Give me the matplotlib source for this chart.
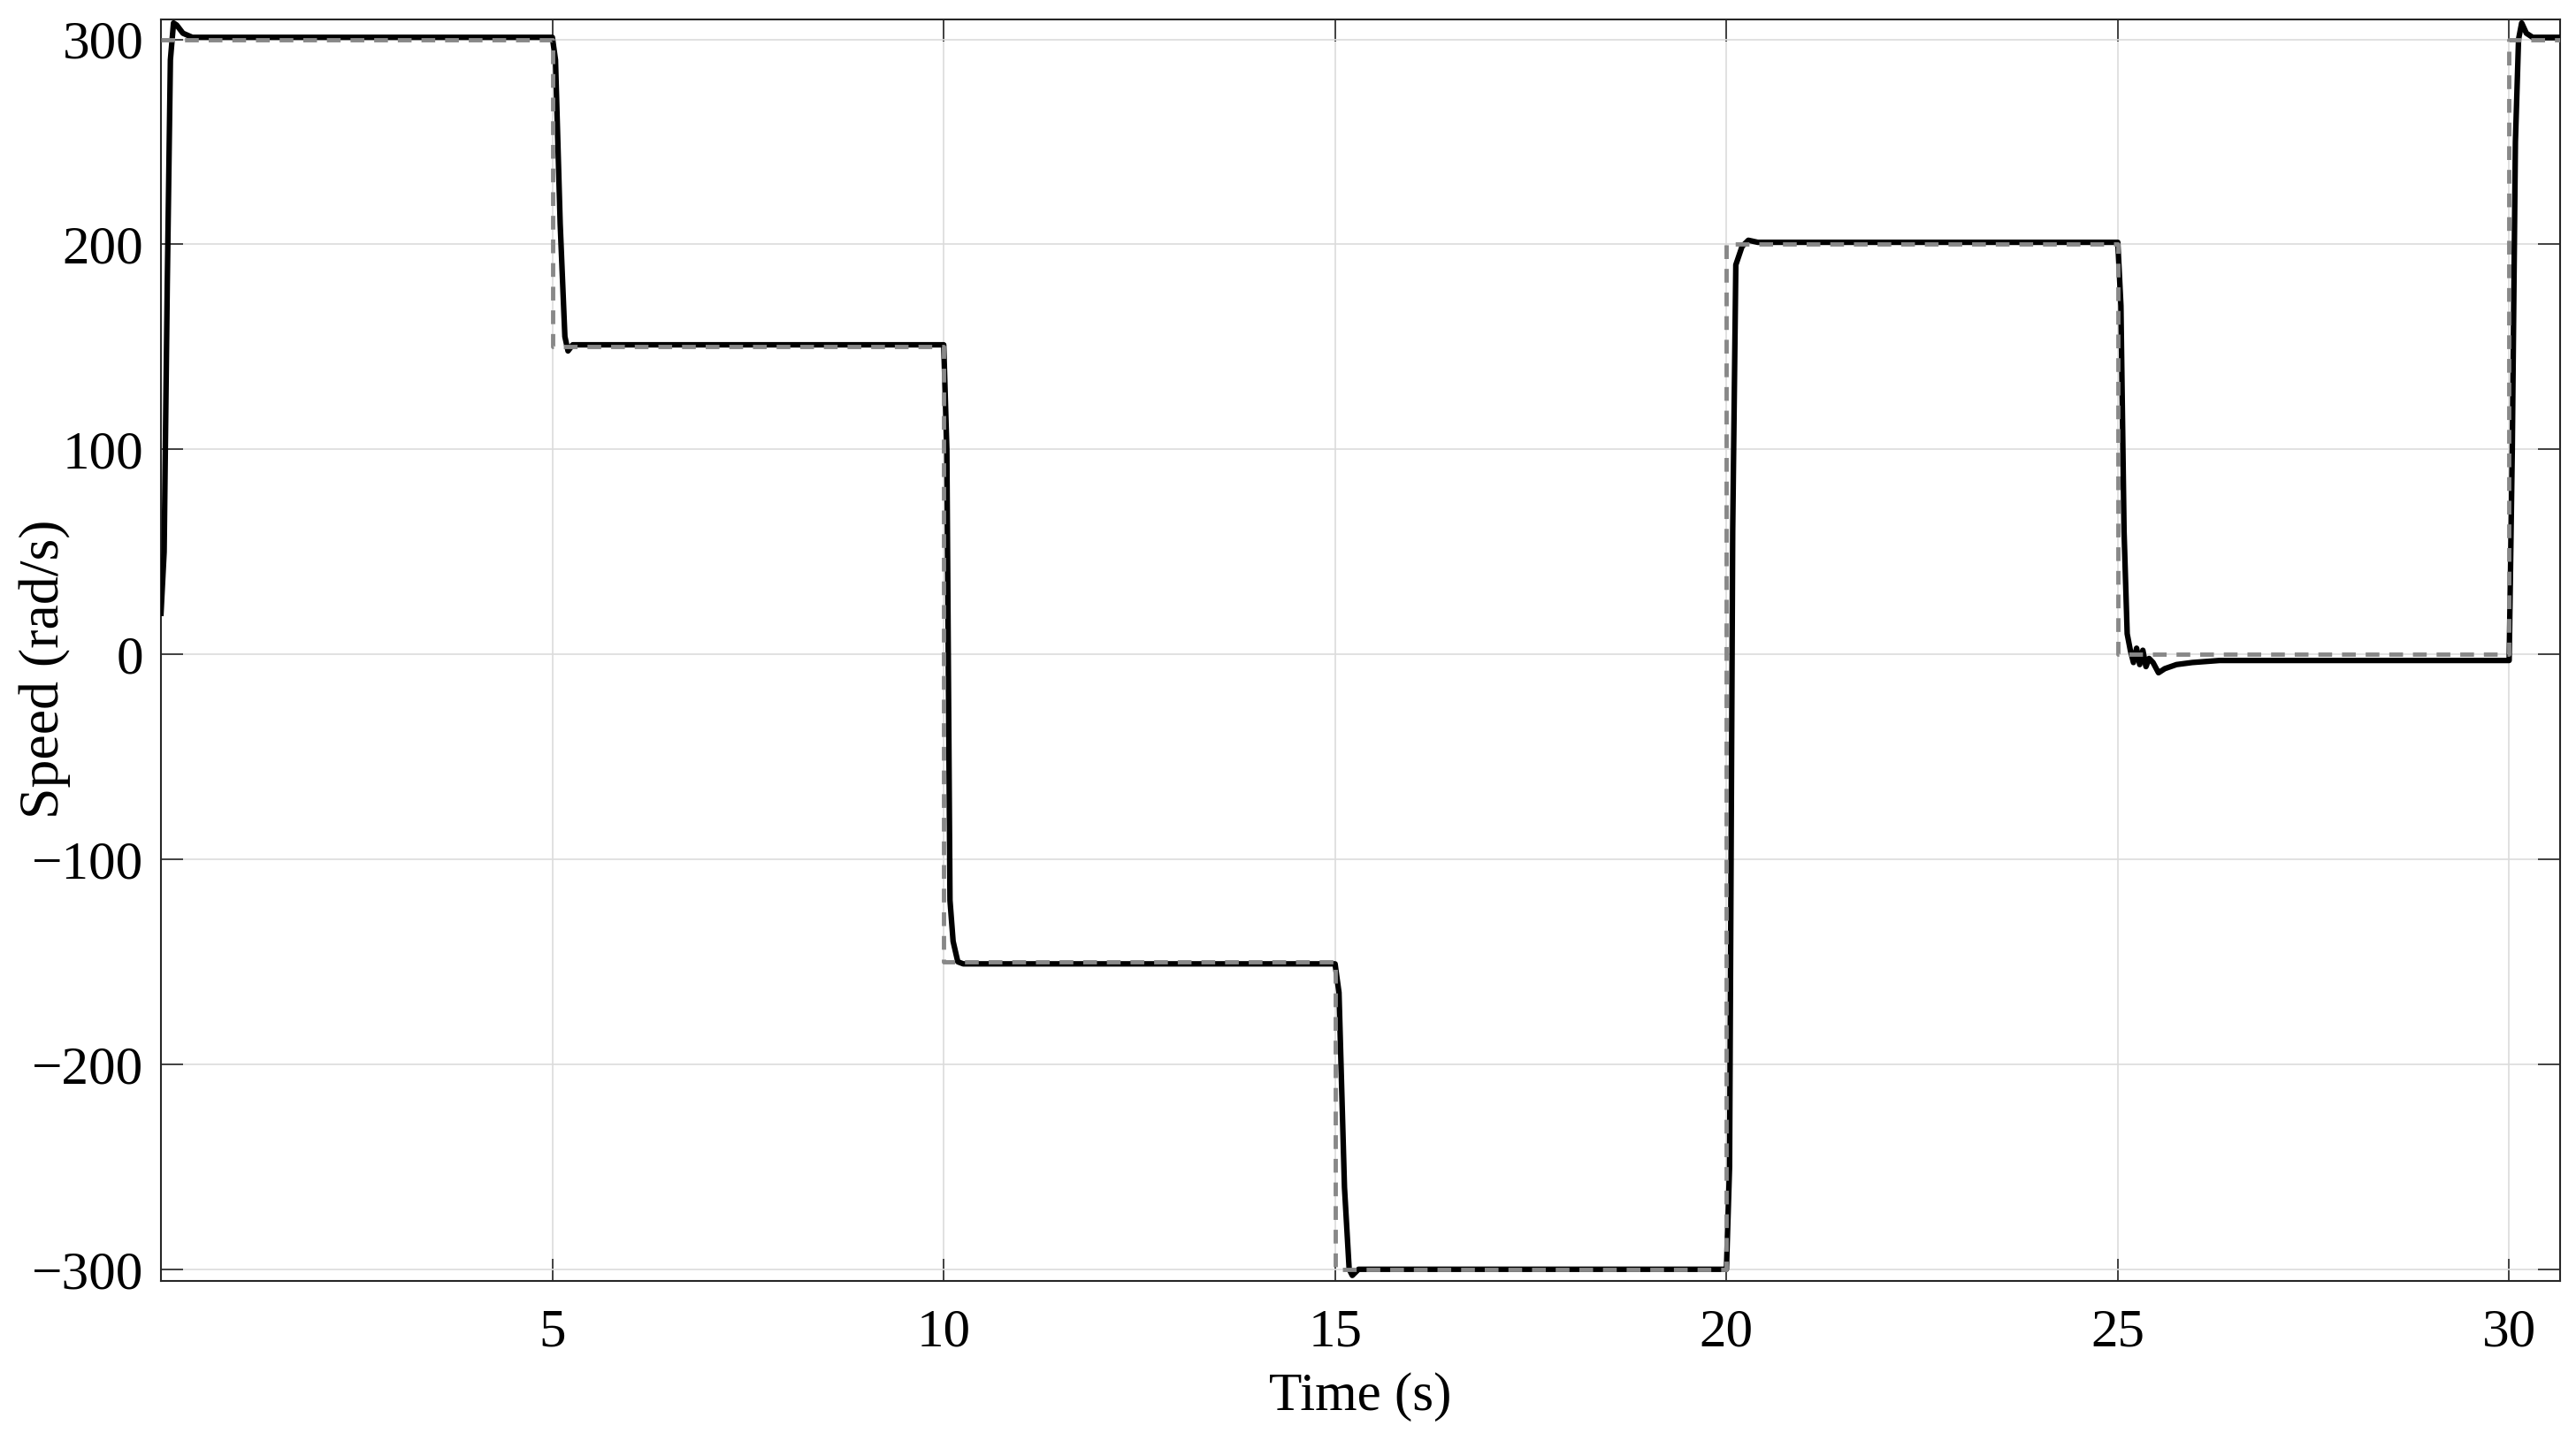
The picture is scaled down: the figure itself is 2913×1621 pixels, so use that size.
import numpy as np
import matplotlib.pyplot as plt

plt.rcParams['font.family'] = ['Liberation Serif', 'DejaVu Serif']
plt.rcParams['mathtext.fontset'] = 'stix'

# reference speed steps (s, rad/s)
ref_t = [0, 5, 5, 10, 10, 15, 15, 20, 20, 25, 25, 30, 30, 30.65]
ref_w = [300, 300, 150, 150, -150, -150, -300, -300, 200, 200, 0, 0, 300, 300]

meas_t = [0, 0.04, 0.08, 0.12, 0.16, 0.2, 0.28, 0.4, 5.0, 5.04, 5.1, 5.16, 5.2, 5.26, 5.4,
          10.0, 10.04, 10.08, 10.12, 10.18, 10.25, 15.0, 15.05, 15.12, 15.18, 15.22, 15.3,
          20.0, 20.04, 20.08, 20.12, 20.2, 20.28, 20.4, 25.0, 25.04, 25.08, 25.12, 25.16,
          25.2, 25.24, 25.28, 25.32, 25.36, 25.4, 25.45, 25.52, 25.6, 25.75, 25.95, 26.3,
          30.0, 30.04, 30.08, 30.12, 30.16, 30.22, 30.3, 30.65]
meas_w = [20, 50, 180, 290, 308, 307, 303, 301, 301, 290, 210, 155, 148, 151, 151,
          151, 100, -120, -140, -150, -151, -151, -165, -260, -300, -303, -300,
          -300, -250, 60, 190, 199, 202, 201, 201, 170, 60, 10, 2,
          -4, 3, -5, 2, -6, -2, -4, -9, -7, -5, -4, -3,
          -3, 100, 250, 300, 308, 303, 301, 301]

fig = plt.figure(figsize=(29.13, 16.21), dpi=100)
ax = fig.add_axes([0.0625, 0.1061, 0.9313, 0.8803])

ax.plot(meas_t, meas_w, color='black', lw=4.5, zorder=3)
ax.plot(ref_t, ref_w, color='#888888', lw=3.5, dashes=(3.2, 2.3), zorder=4)

ax.set_xlim(0, 30.65)
ax.set_ylim(-305.7, 309.7)
ax.set_xticks([5, 10, 15, 20, 25, 30])
ax.set_yticks([-300, -200, -100, 0, 100, 200, 300])
ax.grid(True, color='#dcdcdc', lw=1.2)
ax.set_axisbelow(True)
ax.tick_params(direction='in', length=18, width=1.2, color='#262626',
               top=True, right=True, labelsize=44)
ax.tick_params(axis='x', pad=22)
ax.tick_params(axis='y', pad=14)
for s in ax.spines.values():
    s.set_color('#262626')
    s.set_linewidth(1.5)

ax.set_xlabel('Time (s)', fontsize=44, labelpad=12)
ax.set_ylabel('Speed (rad/s)', fontsize=46)
ax.yaxis.set_label_coords(-0.0376, 0.485)

fig.savefig('out.png', dpi=100)
